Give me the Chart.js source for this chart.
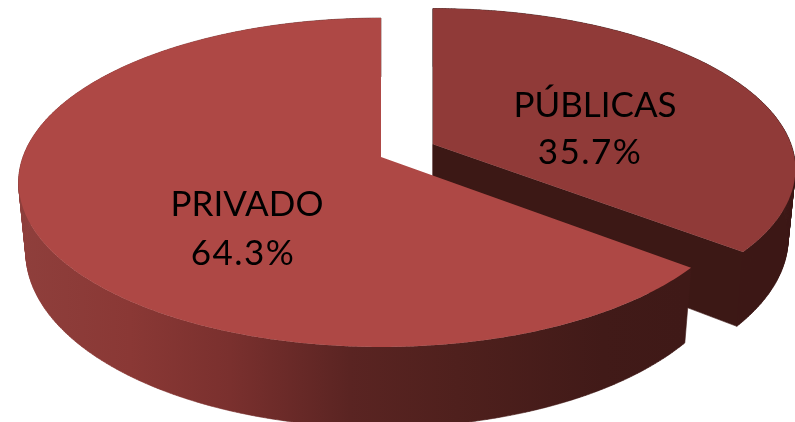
<!DOCTYPE html>
<html lang="es">
<head>
<meta charset="utf-8">
<title>PÚBLICAS / PRIVADO</title>
<script src="https://cdn.jsdelivr.net/npm/chart.js@4"></script>
<style>html,body{margin:0;padding:0;background:#fff;overflow:hidden}canvas{display:block}</style>
</head>
<body>
<canvas id="c" width="795" height="422"></canvas>
<script>
const categories = ['PÚBLICAS', 'PRIVADO'];
const shares = [35.7, 64.3];
const topColors = ['#903a38', '#ae4845'];

const view = {cx: 381, cy: 157, b: 358, a: 160.5, k: 0.155, h: 68, bottomScale: 0.98};
const explode = {dx: 52, dv: -0.08};

function project(theta, r, z, exploded) {
  const u = Math.cos(theta) * r, v = Math.sin(theta) * r;
  const vv = exploded ? v + explode.dv : v;
  const w = 1 - view.k * v, wv = 1 - view.k * vv;
  const sx = z ? view.bottomScale : 1;
  return [
    view.cx + sx * view.b * u / w + (exploded ? explode.dx : 0),
    view.cy + view.a * vv / wv + (z ? view.h / wv : 0)
  ];
}
function arcPoints(a0, a1, z, ex) {
  const n = Math.max(2, Math.ceil(Math.abs(a1 - a0) / 0.01));
  const pts = [];
  for (let i = 0; i <= n; i++) pts.push(project(a0 + (a1 - a0) * i / n, 1, z, ex));
  return pts;
}
function addPoly(ctx, pts) {
  pts.forEach((p, i) => i ? ctx.lineTo(p[0], p[1]) : ctx.moveTo(p[0], p[1]));
  ctx.closePath();
}
function fillPoly(ctx, pts, fill) {
  ctx.beginPath();
  addPoly(ctx, pts);
  ctx.fillStyle = fill;
  ctx.fill();
}
const pie3d = {
  id: 'pie3d',
  beforeDatasetsDraw(chart) {
    const ctx = chart.ctx;
    const arcs = chart.getDatasetMeta(0).data;
    const privateWall = ctx.createLinearGradient(17, 0, 683, 0);
    privateWall.addColorStop(0, '#8f3f3c');
    privateWall.addColorStop(0.17, '#8a3835');
    privateWall.addColorStop(0.32, '#7a302e');
    privateWall.addColorStop(0.5, '#5a2422');
    privateWall.addColorStop(0.66, '#4f201d');
    privateWall.addColorStop(0.88, '#411a18');
    privateWall.addColorStop(1, '#3f1917');
    const wallFills = ['#3c1815', privateWall];

    [0, 1].forEach(i => {
      const {startAngle: s, endAngle: e} = arcs[i];
      const ex = i === 0;
      const apexTop = project(0, 0, 0, ex), apexBot = project(0, 0, 1, ex);
      const top = arcPoints(s, e, 0, ex), bot = arcPoints(s, e, 1, ex);
      ctx.beginPath();
      if (ex) {
        addPoly(ctx, [apexTop, top[0], bot[0], apexBot]);
        addPoly(ctx, [apexTop, top[top.length - 1], bot[bot.length - 1], apexBot]);
      }
      for (let j = 0; j + 1 < top.length; j++) {
        addPoly(ctx, [top[j], top[j + 1], bot[j + 1], bot[j]]);
      }
      ctx.fillStyle = wallFills[i];
      ctx.strokeStyle = wallFills[i];
      ctx.lineWidth = 0.6;
      ctx.fill();
      ctx.stroke();
      fillPoly(ctx, [apexTop].concat(top), topColors[i]);
    });

    ctx.fillStyle = '#000';
    ctx.font = '35px Lato, "Open Sans", sans-serif';
    ctx.textAlign = 'center';
    ctx.textBaseline = 'alphabetic';
    const labelAt = [[[595, 117], [590, 164]], [[247, 216], [243, 265]]];
    categories.forEach((name, i) => {
      ctx.letterSpacing = '0px';
      ctx.fillText(name, labelAt[i][0][0], labelAt[i][0][1]);
      ctx.letterSpacing = '1.5px';
      ctx.fillText(shares[i].toFixed(1) + '%', labelAt[i][1][0], labelAt[i][1][1]);
    });
    ctx.letterSpacing = '0px';
    return false;
  }
};

new Chart(document.getElementById('c'), {
  type: 'pie',
  data: {labels: categories, datasets: [{data: shares, backgroundColor: topColors, borderWidth: 0}]},
  options: {
    responsive: false,
    animation: false,
    plugins: {legend: {display: false}, tooltip: {enabled: false}}
  },
  plugins: [pie3d]
});
</script>
</body>
</html>
